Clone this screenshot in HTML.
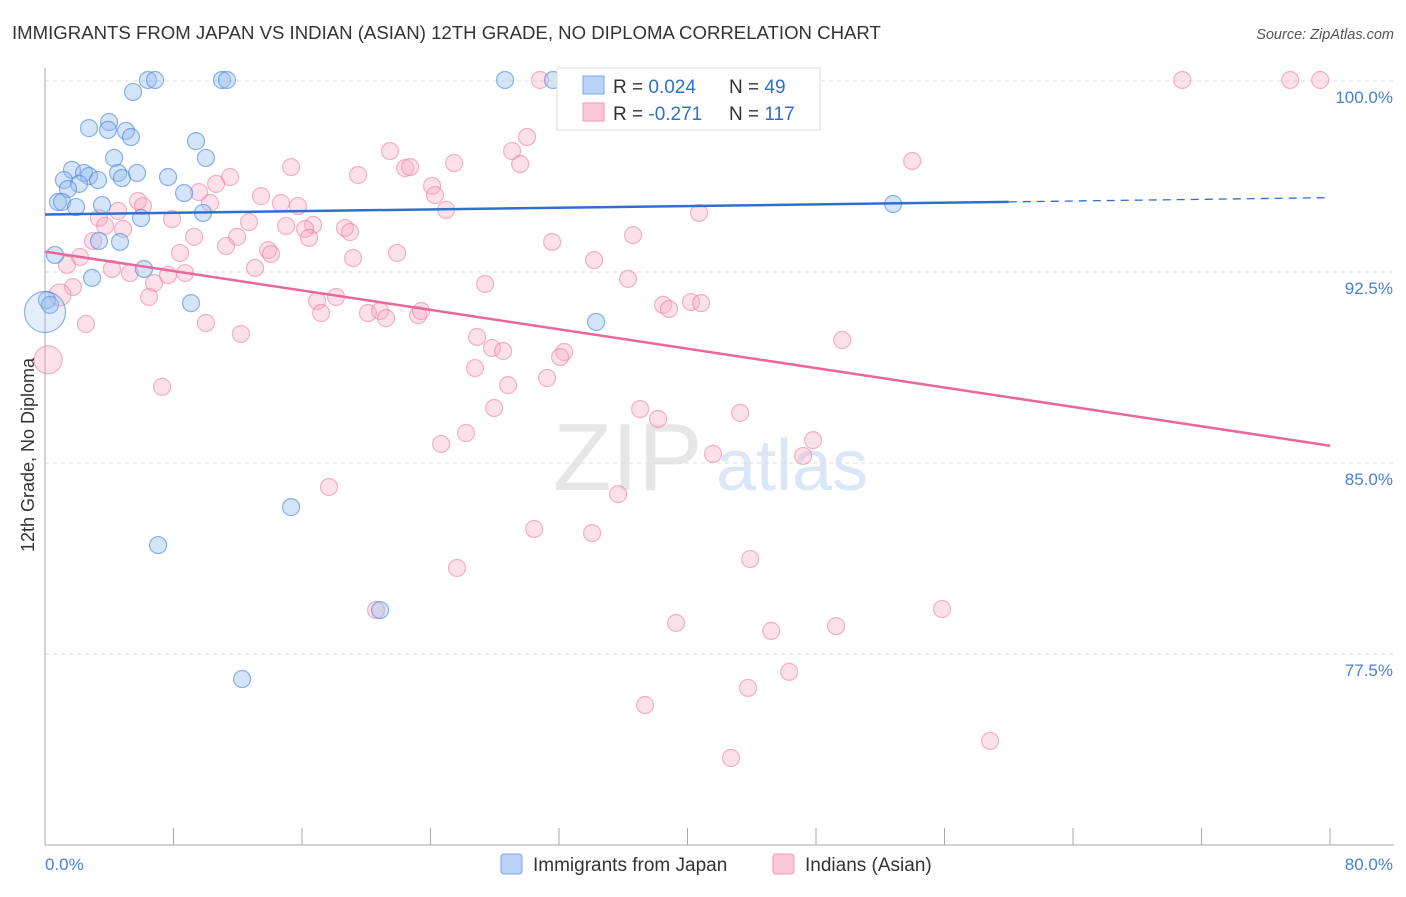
<!DOCTYPE html>
<html><head><meta charset="utf-8"><style>
body{margin:0;background:#fff;font-family:"Liberation Sans",sans-serif;}
svg text{font-family:"Liberation Sans",sans-serif;}
</style></head><body>
<svg id="chart" width="1406" height="892" viewBox="0 0 1406 892">
<text x="12" y="39" font-size="18.6" fill="#333">IMMIGRANTS FROM JAPAN VS INDIAN (ASIAN) 12TH GRADE, NO DIPLOMA CORRELATION CHART</text>
<text x="1394" y="39" font-size="14.5" fill="#555" font-style="italic" text-anchor="end">Source: ZipAtlas.com</text>
<g>
<text x="553" y="490" font-size="96" fill="#e6e6e6" font-family="Liberation Serif">ZIP</text>
<text x="716" y="490" font-size="72" fill="#dbe7f7">atlas</text>
</g>
<g id="grid"></g><g id="axes"></g><g id="pts"></g><g id="lines"></g>
<text transform="translate(34,455) rotate(-90)" font-size="18" fill="#333" text-anchor="middle">12th Grade, No Diploma</text>
<g>
<rect x="557" y="68" width="263" height="62" fill="#fff" stroke="#ddd"/>
<rect x="583" y="76" width="21" height="18" fill="#b8d3f5" stroke="#7aa7e3"/>
<rect x="583" y="103" width="21" height="18" fill="#fbc8d8" stroke="#f09ab8"/>
<text x="613" y="93" font-size="19" fill="#333">R = <tspan fill="#2f6fd0"> 0.024</tspan></text>
<text x="729" y="93" font-size="19" fill="#333">N = <tspan fill="#2f6fd0"> 49</tspan></text>
<text x="613" y="120" font-size="19" fill="#333">R = <tspan fill="#2f6fd0">-0.271</tspan></text>
<text x="729" y="120" font-size="19" fill="#333">N = <tspan fill="#2f6fd0">117</tspan></text>
</g>
<g>
<rect x="501" y="854" width="21" height="20" rx="3" fill="#b8d3f5" stroke="#7aa7e3"/>
<text x="533" y="871" font-size="19" fill="#333">Immigrants from Japan</text>
<rect x="773" y="854" width="21" height="20" rx="3" fill="#fbc8d8" stroke="#f09ab8"/>
<text x="805" y="871" font-size="19" fill="#333">Indians (Asian)</text>
</g>
</svg>
<script>
const xTicks=[0,8,16,24,32,40,48,56,64,72,80];
const yTicks=[100,92.5,85,77.5];
const yTickLabels=["100.0%","92.5%","85.0%","77.5%"];
const jpX=[6.41,6.85,11.02,11.33,28.64,31.63,43.15,5.48,3.99,2.74,5.04,5.35,3.92,9.40,4.30,10.02,1.68,2.43,2.74,1.18,3.30,4.55,4.79,5.73,7.66,2.12,1.43,8.66,0.81,1.06,3.55,1.93,5.98,9.84,52.80,3.36,4.67,0.62,6.16,2.93,0.12,0.31,9.09,34.31,15.32,7.04,20.86,12.27,0];
const jpY=[100.04,100.04,100.04,100.04,100.04,100.04,100.04,99.57,98.39,98.15,98.04,97.80,98.08,97.64,96.98,96.98,96.51,96.39,96.27,96.11,96.11,96.39,96.19,96.39,96.23,95.96,95.76,95.60,95.25,95.25,95.13,95.05,94.62,94.82,95.17,93.72,93.68,93.17,92.62,92.27,91.40,91.21,91.28,90.54,83.27,81.78,79.23,76.52,90.93];
const jpR=[8,8,8,8,8,8,8,8,8,8,8,8,8,8,8,8,8,8,8,8,8,8,8,8,8,8,8,8,8,8,8,8,8,8,8,8,8,8,8,8,8,8,8,8,8,8,8,8,20];
const inX=[30.82,46.01,46.20,70.80,77.52,79.39,30.01,29.08,29.58,21.48,22.42,22.73,25.47,15.32,19.49,11.52,10.65,53.99,24.10,24.28,24.97,13.45,14.69,15.75,5.79,6.10,4.55,3.36,7.91,12.70,10.27,9.59,40.72,16.69,15.01,18.68,18.99,16.19,36.61,4.86,3.74,2.99,9.28,11.96,11.27,13.89,14.07,16.44,31.57,8.41,2.18,1.37,4.17,5.29,8.72,6.79,7.66,13.08,21.92,19.18,34.18,36.30,27.40,1.74,0.93,6.48,16.94,18.12,17.19,20.11,20.86,21.23,23.23,23.41,38.48,38.85,40.22,40.85,2.55,10.02,12.20,26.90,27.83,28.52,32.32,32.07,49.63,0.19,7.29,26.77,28.83,31.26,37.05,38.17,43.28,27.96,26.21,24.66,41.59,47.82,47.20,17.68,35.68,30.45,34.06,25.65,43.90,20.61,55.85,39.29,45.21,49.25,43.77,46.33,37.36,42.71,58.84];
const inY=[100.04,100.04,100.04,100.04,100.04,100.04,97.80,97.25,96.74,97.25,96.58,96.62,96.78,96.62,96.31,96.23,95.96,96.86,95.88,95.52,94.94,95.48,95.21,95.09,95.29,95.09,94.90,94.62,94.58,94.46,95.21,95.64,94.82,94.35,94.31,94.23,94.07,94.19,93.95,94.19,94.31,93.72,93.88,93.88,93.52,93.36,93.21,93.84,93.68,93.25,93.09,92.78,92.62,92.46,92.46,92.07,92.38,92.66,93.25,93.05,92.97,92.23,92.03,91.91,91.60,91.52,91.36,91.52,90.89,90.89,90.97,90.69,90.81,90.97,91.21,91.05,91.32,91.28,90.46,90.50,90.07,89.95,89.52,89.40,89.36,89.16,89.83,89.05,87.99,88.73,88.06,88.34,87.12,86.73,86.97,87.16,86.18,85.75,85.36,85.90,85.28,84.06,83.78,82.41,82.25,80.88,81.23,79.23,79.27,78.72,78.41,78.60,76.17,76.80,75.50,73.42,74.09];
const jpTrend=[94.76,95.42];
const inTrend=[93.3,85.68];

const NS="http://www.w3.org/2000/svg";
const X0=45,X1=1330,YT=81,PX_PER=25.47;
const sx=v=>X0+(v/80)*(X1-X0);
const sy=v=>YT+(100-v)*PX_PER;
function mk(tag,attrs,parent){const e=document.createElementNS(NS,tag);for(const k in attrs)e.setAttribute(k,attrs[k]);document.getElementById(parent).appendChild(e);return e;}
yTicks.forEach((t,i)=>{
 const g=mk('line',{x1:X0,x2:1394,y1:sy(t),y2:sy(t),stroke:'#ddd','stroke-dasharray':'4,4'},'grid');
 
 
 const l=mk('text',{x:1393,y:sy(t)+22,'font-size':17,fill:'#4a7fd4','text-anchor':'end'},'axes');
 l.textContent=yTickLabels[i];
 
 
});
const ya=mk('line',{x1:X0,x2:X0,y1:68,y2:845,stroke:'#aaa'},'axes');


const xa=mk('line',{x1:X0,x2:1394,y1:845,y2:845,stroke:'#aaa'},'axes');


xTicks.forEach(t=>{
 const tk=mk('line',{x1:sx(t),x2:sx(t),y1:828,y2:845,stroke:'#aaa'},'axes');
 
 
});
[[0,'0.0%','start',45],[80,'80.0%','end',1393]].forEach(a=>{
 const l=mk('text',{x:a[3],y:870,'font-size':17,fill:'#4a7fd4','text-anchor':a[2]},'axes');
 l.textContent=a[1];
 
 
});
inX.forEach((v,i)=>{
 const c=mk('circle',{cx:sx(v),cy:sy(inY[i]),r:(i==87?14:(i==64?11:8.5)),fill:'rgba(247,170,196,0.35)',stroke:'rgba(233,120,160,0.55)','stroke-width':1.2},'pts');
 
 
});
jpX.forEach((v,i)=>{
 const big=jpR[i]>10;
 const c=mk('circle',{cx:sx(v),cy:sy(jpY[i]),r:jpR[i]+0.5,fill:big?'rgba(150,190,240,0.25)':'rgba(150,190,240,0.4)',stroke:'rgba(70,130,215,0.6)','stroke-width':1.2},'pts');
 
 
});
const js=v=>jpTrend[0]+(jpTrend[1]-jpTrend[0])*v/80;
const b1=mk('line',{x1:sx(0),y1:sy(js(0)),x2:sx(60),y2:sy(js(60)),stroke:'#2f6fd0','stroke-width':2.5},'lines');


const b2=mk('line',{x1:sx(60),y1:sy(js(60)),x2:sx(80),y2:sy(js(80)),stroke:'#2f6fd0','stroke-width':1.3,'stroke-dasharray':'8,6'},'lines');


const p1=mk('line',{x1:sx(0),y1:sy(inTrend[0]),x2:sx(80),y2:sy(inTrend[1]),stroke:'#e9679a','stroke-width':2.5},'lines');


</script>
</body></html>
